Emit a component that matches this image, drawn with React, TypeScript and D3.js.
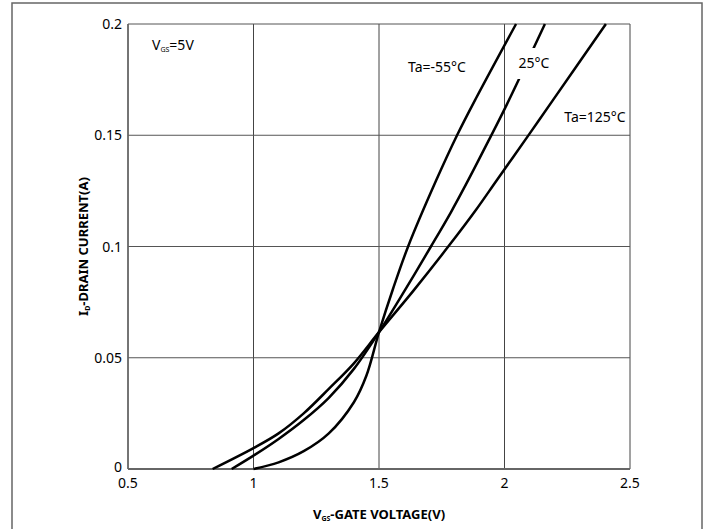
import React, { useEffect, useRef } from "react";
import * as d3 from "d3";

// gate voltage (V) / drain current (A)
const vgsM55 = [1.0, 1.1, 1.2, 1.3, 1.4, 1.45, 1.5, 1.556, 1.616, 1.727, 1.811, 1.886, 2.046];
const idM55 = [0, 0.003, 0.008, 0.016, 0.03, 0.042, 0.0615, 0.081, 0.1, 0.1295, 0.15, 0.1665, 0.2];

const vgs25 = [0.913, 1.0, 1.1, 1.2, 1.3, 1.4, 1.5, 1.604, 1.707, 1.787, 1.847, 1.934, 2.01, 2.161];
const id25 = [0, 0.006, 0.0135, 0.022, 0.032, 0.045, 0.0615, 0.0805, 0.1, 0.1155, 0.128, 0.147, 0.164, 0.2];

const vgs125 = [0.837, 1.0, 1.1, 1.2, 1.3, 1.4, 1.5, 1.639, 1.779, 1.886, 1.97, 2.098, 2.193, 2.404];
const id125 = [0, 0.0094, 0.016, 0.025, 0.036, 0.0475, 0.0615, 0.0804, 0.1004, 0.1164, 0.1299, 0.1504, 0.1658, 0.2];

const xTicks = [0.5, 1, 1.5, 2, 2.5];
const yTicks = [0, 0.05, 0.1, 0.15, 0.2];

const FONT = "'Noto Sans', 'Open Sans', sans-serif";

const App = () => {
  const ref = useRef<SVGSVGElement | null>(null);

  useEffect(() => {
    const svg = d3.select(ref.current);
    svg.selectAll("*").remove();

    const left = 128, right = 630, top = 24, bottom = 469;
    const x = d3.scaleLinear().domain([0.5, 2.5]).range([left, right]);
    const y = d3.scaleLinear().domain([0, 0.2]).range([bottom, top]);

    // outer frame
    svg.append("rect")
      .attr("x", 12).attr("y", 3)
      .attr("width", 690).attr("height", 560)
      .attr("fill", "white")
      .attr("stroke", "#666")
      .attr("stroke-width", 1.5);

    // grid
    svg.append("g").selectAll("line")
      .data(xTicks)
      .join("line")
      .attr("x1", d => x(d)).attr("x2", d => x(d))
      .attr("y1", top).attr("y2", bottom)
      .attr("stroke", "#444")
      .attr("stroke-width", 1);

    svg.append("g").selectAll("line")
      .data(yTicks)
      .join("line")
      .attr("x1", left).attr("x2", right)
      .attr("y1", d => y(d)).attr("y2", d => y(d))
      .attr("stroke", "#555")
      .attr("stroke-width", 1);

    // axes lines
    svg.append("line")
      .attr("x1", left).attr("x2", right)
      .attr("y1", bottom).attr("y2", bottom)
      .attr("stroke", "#666").attr("stroke-width", 2);
    svg.append("line")
      .attr("x1", left).attr("x2", left)
      .attr("y1", top).attr("y2", bottom)
      .attr("stroke", "#666").attr("stroke-width", 1.5);

    // tick labels
    svg.append("g").selectAll("text")
      .data(xTicks)
      .join("text")
      .attr("x", d => x(d))
      .attr("y", bottom + 19)
      .attr("text-anchor", "middle")
      .style("font-family", FONT)
      .style("font-size", "14px")
      .text(d => String(d));

    svg.append("g").selectAll("text")
      .data(yTicks)
      .join("text")
      .attr("x", left - 6)
      .attr("y", d => y(d) + (d === 0 ? 3 : 5))
      .attr("text-anchor", "end")
      .style("font-family", FONT)
      .style("font-size", "14px")
      .text(d => String(d));

    // curves
    const line = d3.line<[number, number]>()
      .x(d => x(d[0]))
      .y(d => y(d[1]))
      .curve(d3.curveCatmullRom.alpha(0.5));

    const series = [
      d3.zip(vgsM55, idM55),
      d3.zip(vgs25, id25),
      d3.zip(vgs125, id125),
    ] as [number, number][][];

    svg.append("g").selectAll("path")
      .data(series)
      .join("path")
      .attr("d", d => line(d))
      .attr("fill", "none")
      .attr("stroke", "black")
      .attr("stroke-width", 2.5);

    // curve labels
    const label = (tx: number, ty: number, txt: string, knock = false) => {
      if (knock) {
        svg.append("rect")
          .attr("x", tx - 20).attr("y", ty - 15)
          .attr("width", 40).attr("height", 31)
          .attr("fill", "white");
      }
      svg.append("text")
        .attr("x", tx).attr("y", ty + 5)
        .attr("text-anchor", "middle")
        .style("font-family", FONT)
        .style("font-size", "14px")
        .text(txt);
    };
    label(437, 67, "Ta=-55°C");
    label(534, 63, "25°C", true);
    label(595, 117, "Ta=125°C");

    // V_GS=5V note
    const note = svg.append("text")
      .attr("x", 152).attr("y", 50)
      .style("font-family", FONT)
      .style("font-size", "14px");
    note.append("tspan").text("V");
    note.append("tspan").attr("dy", 2).style("font-size", "7px").text("GS");
    note.append("tspan").attr("dy", -2).text("=5V");

    // x title
    const xt = svg.append("text")
      .attr("x", (left + right) / 2)
      .attr("y", 519)
      .attr("text-anchor", "middle")
      .style("font-family", FONT)
      .style("font-size", "13px")
      .style("font-weight", "bold");
    xt.append("tspan").text("V");
    xt.append("tspan").attr("dy", 2).style("font-size", "7px").text("GS");
    xt.append("tspan").attr("dy", -2).text("-GATE VOLTAGE(V)");

    // y title
    const yt = svg.append("text")
      .attr("transform", `translate(88,${(top + bottom) / 2}) rotate(-90)`)
      .attr("text-anchor", "middle")
      .style("font-family", FONT)
      .style("font-size", "13px")
      .style("font-weight", "bold");
    yt.append("tspan").text("I");
    yt.append("tspan").attr("dy", 2).style("font-size", "7px").text("D");
    yt.append("tspan").attr("dy", -2).text("-DRAIN CURRENT(A)");
  }, []);

  return (
    <svg
      ref={ref}
      width={711}
      height={529}
      style={{ position: "absolute", left: 0, top: 0, background: "white" }}
    />
  );
};

export default App;
